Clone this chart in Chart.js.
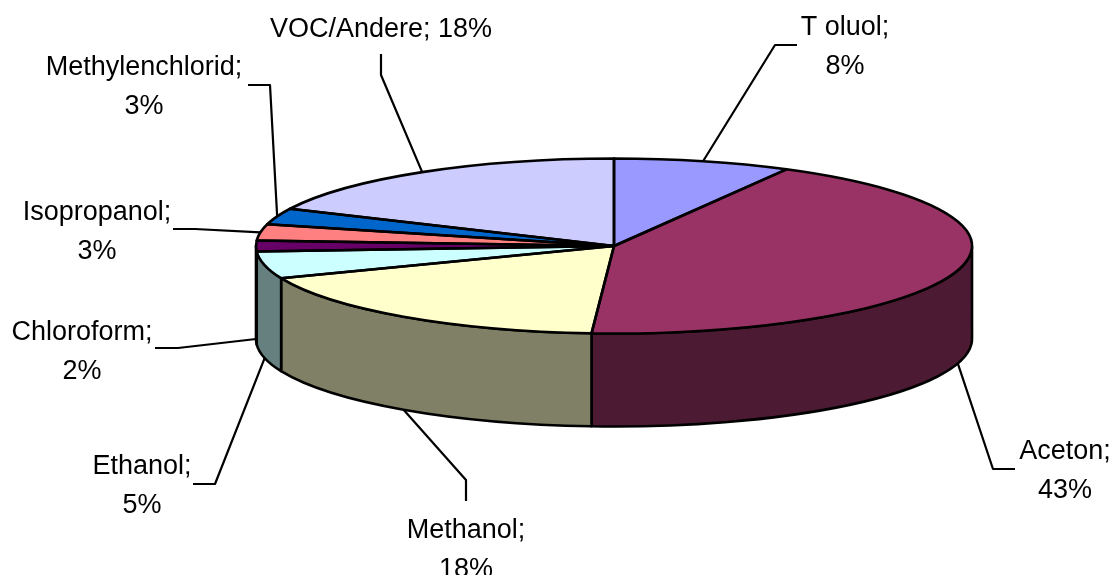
<!DOCTYPE html>
<html lang="de">
<head>
    <meta charset="UTF-8">
    <title>Lösemittel Anteile</title>
    <script src="https://cdn.jsdelivr.net/npm/chart.js"></script>
    <style>
        body { margin: 0; background: white; }
        canvas { display: block; }
    </style>
</head>
<body>
    <canvas id="pieChart" width="1115" height="575"></canvas>

    <script>
        const categories = ["T oluol", "Aceton", "Methanol", "Ethanol", "Chloroform", "Isopropanol", "Methylenchlorid", "VOC/Andere"];
        const shares = [8, 43, 18, 5, 2, 3, 3, 18];
        const topColors = ["#9999FF", "#993366", "#FFFFCC", "#CCFFFF", "#660066", "#FF8080", "#0066CC", "#CCCCFF"];
        const sideColors = ["#4D4D80", "#4D1A33", "#808066", "#668080", "#330033", "#804040", "#003366", "#666680"];

        // label centre x and first baseline y
        const labelX = [845, 1065, 466, 142, 82, 97, 144, 381];
        const labelY = [35, 459, 538, 474, 340, 220, 75, 37];
        const lineGap = 39;
        // knee and end of each leader line, the start comes from the slice itself
        const leaderKnee = [[775, 45], [993, 469], [466, 480], [215, 484], [178, 348], [195, 229], [270, 85], [381, 75]];
        const leaderEnd = [[797, 45], [1015, 469], [466, 501], [193, 484], [155, 348], [173, 229], [248, 85], [381, 54]];

        const radiusX = 358;
        const tilt = 0.2444;   // ry / rx
        const depth = 93;

        function drawSides(ctx, arcs) {
            arcs.forEach((arc, i) => {
                const from = Math.max(arc.startAngle, 0);
                const to = Math.min(arc.endAngle, Math.PI);
                if (from >= to) return;
                const ry = arc.outerRadius * tilt;
                ctx.beginPath();
                ctx.ellipse(arc.x, arc.y, arc.outerRadius, ry, 0, from, to);
                ctx.ellipse(arc.x, arc.y + depth, arc.outerRadius, ry, 0, to, from, true);
                ctx.closePath();
                ctx.fillStyle = sideColors[i];
                ctx.fill();
                ctx.stroke();
            });
        }

        const pie3d = {
            id: 'pie3d',
            beforeDatasetsDraw(chart) {
                const ctx = chart.ctx;
                const arcs = chart.getDatasetMeta(0).data;
                ctx.save();
                ctx.lineWidth = 2.6;
                ctx.strokeStyle = "black";
                ctx.lineJoin = "round";
                drawSides(ctx, arcs);
                ctx.restore();

                // squash the pie, the library draws the slices in this transform
                ctx.save();
                ctx.translate(arcs[0].x, arcs[0].y);
                ctx.scale(1, tilt);
                ctx.translate(-arcs[0].x, -arcs[0].y);
            },
            afterDatasetsDraw(chart) {
                const ctx = chart.ctx;
                const arcs = chart.getDatasetMeta(0).data;
                ctx.restore();

                ctx.save();
                ctx.lineWidth = 2.6;
                ctx.strokeStyle = "black";
                ctx.lineJoin = "round";
                arcs.forEach(arc => {
                    ctx.beginPath();
                    ctx.moveTo(arc.x, arc.y);
                    ctx.ellipse(arc.x, arc.y, arc.outerRadius, arc.outerRadius * tilt, 0, arc.startAngle, arc.endAngle);
                    ctx.closePath();
                    ctx.stroke();
                });

                ctx.lineWidth = 2.2;
                arcs.forEach((arc, i) => {
                    const mid = (arc.startAngle + arc.endAngle) / 2;
                    const front = Math.sin(mid) > -0.001;
                    const startX = arc.x + arc.outerRadius * Math.cos(mid);
                    const startY = arc.y + arc.outerRadius * tilt * Math.sin(mid) + (front ? depth : 0);
                    ctx.beginPath();
                    ctx.moveTo(startX, startY);
                    ctx.lineTo(leaderKnee[i][0], leaderKnee[i][1]);
                    ctx.lineTo(leaderEnd[i][0], leaderEnd[i][1]);
                    ctx.stroke();
                });

                ctx.fillStyle = "black";
                ctx.font = '27px "Liberation Sans"';
                ctx.textAlign = "center";
                ctx.textBaseline = "alphabetic";
                categories.forEach((name, i) => {
                    if (name === "VOC/Andere") {
                        ctx.fillText(name + "; " + shares[i] + "%", labelX[i], labelY[i]);
                    } else {
                        ctx.fillText(name + ";", labelX[i], labelY[i]);
                        ctx.fillText(shares[i] + "%", labelX[i], labelY[i] + lineGap);
                    }
                });
                ctx.restore();
            }
        };

        new Chart(document.getElementById('pieChart').getContext('2d'), {
            type: 'pie',
            data: {
                labels: categories,
                datasets: [{ data: shares, backgroundColor: topColors, borderWidth: 0, clip: false }]
            },
            options: {
                responsive: false,
                animation: false,
                radius: radiusX,
                layout: { padding: { left: 113, right: 0, top: 0, bottom: 83 } },
                plugins: { legend: { display: false }, tooltip: { enabled: false } }
            },
            plugins: [pie3d]
        });
    </script>
</body>
</html>
